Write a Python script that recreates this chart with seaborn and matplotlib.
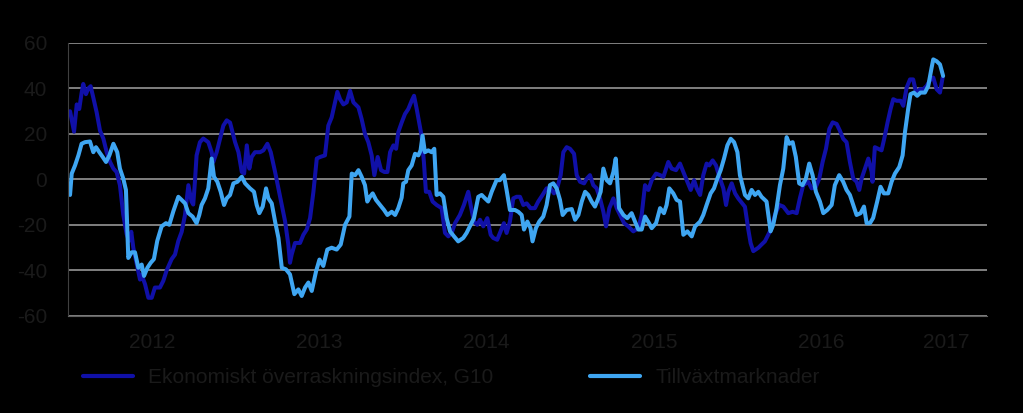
import matplotlib
matplotlib.use('Agg')
import matplotlib.pyplot as plt
import seaborn as sns
import pandas as pd

# Ekonomiskt överraskningsindex, G10 (decimal year, value)
g10_t = [2012.012, 2012.036, 2012.052, 2012.067, 2012.081, 2012.091, 2012.107, 2012.121, 2012.135, 2012.151,
         2012.171, 2012.191, 2012.211, 2012.231, 2012.251, 2012.271, 2012.290, 2012.310, 2012.330, 2012.350,
         2012.364, 2012.378, 2012.390, 2012.410, 2012.430, 2012.440, 2012.460, 2012.480, 2012.500, 2012.519,
         2012.549, 2012.569, 2012.589, 2012.619, 2012.639, 2012.659, 2012.679, 2012.699, 2012.719, 2012.738,
         2012.748, 2012.758, 2012.768, 2012.788, 2012.808, 2012.838, 2012.858, 2012.868, 2012.888, 2012.908,
         2012.928, 2012.948,
         2012.968, 2012.998, 2013.018, 2013.038, 2013.052, 2013.068, 2013.083, 2013.097, 2013.117, 2013.147,
         2013.167, 2013.191, 2013.211, 2013.237, 2013.257, 2013.277, 2013.297, 2013.316, 2013.326, 2013.336,
         2013.356, 2013.386, 2013.406, 2013.426, 2013.446, 2013.466, 2013.486, 2013.506, 2013.535, 2013.555,
         2013.575, 2013.595, 2013.609, 2013.625, 2013.645, 2013.665, 2013.685, 2013.705, 2013.735, 2013.754,
         2013.774, 2013.794, 2013.814, 2013.830, 2013.850, 2013.870, 2013.890, 2013.908, 2013.924, 2013.944,
         2013.960, 2013.973,
         2013.993, 2014.013, 2014.033, 2014.053, 2014.067, 2014.083, 2014.098, 2014.112, 2014.126, 2014.138,
         2014.158, 2014.178, 2014.202, 2014.232, 2014.252, 2014.272, 2014.292, 2014.312, 2014.341, 2014.365,
         2014.391, 2014.405, 2014.425, 2014.445, 2014.461, 2014.481, 2014.505, 2014.525, 2014.540, 2014.564,
         2014.584, 2014.604, 2014.620, 2014.640, 2014.660, 2014.680, 2014.700, 2014.720, 2014.740, 2014.763,
         2014.789, 2014.809, 2014.835, 2014.859, 2014.883, 2014.903, 2014.919, 2014.943, 2014.959, 2014.979,
         2014.999, 2015.023, 2015.039, 2015.059, 2015.083, 2015.099, 2015.118, 2015.138, 2015.158, 2015.178,
         2015.198, 2015.214, 2015.234, 2015.258, 2015.278, 2015.298, 2015.322, 2015.347, 2015.377, 2015.407,
         2015.427, 2015.447, 2015.467, 2015.487, 2015.513, 2015.537, 2015.557, 2015.586, 2015.606, 2015.632,
         2015.656, 2015.676, 2015.700, 2015.720, 2015.740, 2015.756, 2015.776, 2015.795, 2015.815, 2015.831,
         2015.851, 2015.871, 2015.891, 2015.915, 2015.931, 2015.945, 2015.965, 2015.985, 2016.004,
         2016.044, 2016.064, 2016.078, 2016.094, 2016.124, 2016.143, 2016.163, 2016.183, 2016.203, 2016.223,
         2016.249, 2016.273, 2016.303, 2016.329, 2016.353, 2016.372, 2016.392, 2016.422, 2016.442, 2016.468,
         2016.488, 2016.508, 2016.528, 2016.548, 2016.568, 2016.592, 2016.611, 2016.631, 2016.651, 2016.671,
         2016.691, 2016.711, 2016.727, 2016.741, 2016.761, 2016.781, 2016.801, 2016.806, 2016.820, 2016.840,
         2016.860, 2016.876, 2016.896, 2016.914, 2016.930, 2016.950, 2016.974, 2016.990, 2017.010, 2017.030,
         2017.049, 2017.069, 2017.089, 2017.109, 2017.129, 2017.153, 2017.169, 2017.189, 2017.209, 2017.225]
g10_v = [30, 21, 33, 31, 38, 42, 37.5, 40, 41, 36,
         29.5, 21.5, 18, 12, 7.7, 4.8, 3.3, -2.5, -15.5, -24,
         -27, -23, -30, -37, -44, -42, -46, -52, -52, -47.5,
         -47.5, -44.6, -40, -35, -33, -27, -23, -15.5, -2.5, -9.7,
         -11, -1, 10.6, 16.4, 18, 16.4, 12, 7.7, 12, 17.9,
         23.7, 26,
         25, 16.4, 12, 3.3, 2.6, 15, 4.8, 9.9, 12, 12,
         12.8, 15.7, 12, 3.3, -3.9, -11.2, -18.5, -28.6, -36.6, -33,
         -27.9, -27.9, -24.3, -22, -17, -5.4, 9.2, 9.9, 10.6, 23.7,
         27.3, 33.9, 38.5, 35.3, 33, 33.9, 39, 33.9, 31.7, 26.6,
         20, 16.4, 10.6, 1.9, 9.9, 4.1, 3.3, 3.3, 12, 15,
         13.5, 20.8,
         25, 28.8, 31, 34.6, 36.8, 31, 25, 19.3, 7.7, -5.4,
         -5.4, -9.7, -11.2, -12.6, -23.5, -25, -23.5, -19.2, -15.6, -11.2,
         -5.4, -11.2, -18.5, -19.9, -17.7, -20.6, -17, -24.3, -25.7, -26.5,
         -22.8, -19.2, -23.5, -18.5, -8.3, -7.6, -7.6, -11.2, -10.5, -12.6,
         -12.6, -9.7, -6.8, -3.9, -3.9, -6.1, -4.7, 1.9, 12, 14.2,
         13.5, 11.3, 1.9, -1, -1.7, 0.4, 1.9, -2.5, -3.9, -8.3,
         -14.1, -20.6, -12.6, -8.3, -12.6, -15.6, -19.2, -20.6, -22.8, -21.4,
         -15.6, -2.5, -4.6, -0.3, 2.6, 1.9, 1.2, 7.7, 4.8, 4.1,
         7, 3.3, -1, -4.6, -0.3, -3.9, -6.8, 1.9, 7, 6.2,
         8.4, 6.2, 1.2, -3.9, -11.2, -5.4, -1.7, -6.1, -8.3,
         -12, -22, -28, -31.5, -30, -28.6, -27.2, -24.3, -21.4, -15.6,
         -11.2, -11.9, -14.8, -14.2, -14.8, -8.3, -2.5, -1, -3.9, -3.2,
         0.4, 7.7, 13.5, 22.2, 25.1, 24.4, 21.5, 17.9, 16.4, 7.7,
         0.4, -1, -4.6, 0.4, 4.8, 9.2, 3.3, -1, 14.2, 13.5,
         12.8, 17.9, 25.1, 31, 35.3, 34.6, 34.6, 32.4, 40.4, 44,
         44, 37.5, 39.7, 39.7, 41.1, 44, 44.8, 39.7, 38.2, 44.8]

# Tillväxtmarknader (decimal year, value)
em_t = [2012.012, 2012.022, 2012.042, 2012.062, 2012.081, 2012.101, 2012.131, 2012.151, 2012.167, 2012.187,
        2012.207, 2012.227, 2012.247, 2012.271, 2012.294, 2012.310, 2012.330, 2012.346, 2012.360, 2012.380,
        2012.400, 2012.420, 2012.440, 2012.454, 2012.474, 2012.494, 2012.513, 2012.533, 2012.559, 2012.585,
        2012.605, 2012.629, 2012.659, 2012.679, 2012.699, 2012.719, 2012.744, 2012.768, 2012.784, 2012.798,
        2012.818, 2012.838, 2012.858, 2012.872, 2012.892, 2012.912, 2012.932, 2012.948,
        2012.968, 2012.988, 2013.012, 2013.038, 2013.058, 2013.087, 2013.111, 2013.127, 2013.143, 2013.163,
        2013.183, 2013.197, 2013.217, 2013.237, 2013.257, 2013.277, 2013.302, 2013.326, 2013.352, 2013.376,
        2013.396, 2013.416, 2013.436, 2013.456, 2013.482, 2013.502, 2013.525, 2013.549, 2013.575, 2013.605,
        2013.629, 2013.655, 2013.681, 2013.695, 2013.715, 2013.735, 2013.754, 2013.774, 2013.788, 2013.804,
        2013.820, 2013.840, 2013.864, 2013.888, 2013.908, 2013.934, 2013.954, 2013.973,
        2013.993, 2014.003, 2014.019, 2014.033, 2014.053, 2014.073, 2014.093, 2014.106, 2014.118, 2014.132,
        2014.152, 2014.172, 2014.188, 2014.202, 2014.222, 2014.242, 2014.262, 2014.282, 2014.306, 2014.331,
        2014.361, 2014.381, 2014.405, 2014.425, 2014.451, 2014.471, 2014.491, 2014.511, 2014.531, 2014.560,
        2014.580, 2014.604, 2014.620, 2014.640, 2014.670, 2014.690, 2014.710, 2014.724, 2014.744, 2014.763,
        2014.775, 2014.795, 2014.815, 2014.839, 2014.859, 2014.879, 2014.899, 2014.919, 2014.939, 2014.955,
        2014.979,
        2015.009, 2015.029, 2015.049, 2015.069, 2015.089, 2015.108, 2015.128, 2015.148, 2015.168, 2015.182,
        2015.198, 2015.218, 2015.238, 2015.258, 2015.272, 2015.292, 2015.318, 2015.341, 2015.367, 2015.387,
        2015.407, 2015.427, 2015.447, 2015.471, 2015.487, 2015.513, 2015.537, 2015.560, 2015.576, 2015.592,
        2015.616, 2015.636, 2015.656, 2015.676, 2015.700, 2015.726, 2015.746, 2015.776, 2015.795, 2015.815,
        2015.839, 2015.859, 2015.879, 2015.899, 2015.919, 2015.939, 2015.959, 2015.979, 2015.999, 2016.014,
        2016.044, 2016.064, 2016.084, 2016.104, 2016.124, 2016.143, 2016.173, 2016.197, 2016.213, 2016.233,
        2016.253, 2016.273, 2016.293, 2016.309, 2016.329, 2016.348, 2016.368, 2016.388, 2016.408, 2016.428,
        2016.448, 2016.468, 2016.492, 2016.512, 2016.536, 2016.562, 2016.581, 2016.607, 2016.631, 2016.651,
        2016.671, 2016.691, 2016.711, 2016.735, 2016.755, 2016.771, 2016.791, 2016.810, 2016.834, 2016.854,
        2016.874, 2016.900, 2016.920, 2016.940, 2016.966, 2016.986, 2017.000, 2017.019, 2017.033, 2017.053,
        2017.073, 2017.093, 2017.119, 2017.139, 2017.159, 2017.169, 2017.189, 2017.209, 2017.228]
em_v = [-6.8, 2.6, 6.2, 10.6, 15.7, 16.4, 16.7, 12, 14.2, 12,
        9.9, 7.7, 10.6, 15.7, 12, 4.8, 0.4, -4.6, -34.5, -32,
        -32, -38.8, -37.4, -42.4, -38.8, -36.6, -35, -27, -20.6, -19.2,
        -19.9, -14, -7.6, -9, -10.5, -14.8, -16.3, -19.2, -15.6, -11.2,
        -8.3, -3.9, 9.2, 1.2, -1, -5.4, -11.2, -8.3,
        -6.8, -1.7, -1, 1.2, -1.7, -3.9, -5.4, -11.2, -14.8, -11.9,
        -3.9, -8.3, -10.5, -18.5, -25.7, -38.8, -39.5, -41.7, -50.4, -48.3,
        -51.2, -47.5, -45.3, -49, -40.3, -35.2, -38, -30.8, -30, -30.8,
        -28.6, -19.9, -16.3, 2.6, 1.9, 4.1, 1.2, -2.5, -9.7, -7.6,
        -6.1, -9, -11.2, -13.4, -15.6, -14.2, -15.6, -12.6,
        -8, -1.7, -1, 4.1, 6.2, 11.3, 10.6, 12.8, 19.3, 12,
        12.8, 12, 13.5, -6.8, -6.1, -7.6, -17, -22.8, -25, -27.2,
        -25.7, -23.5, -19.9, -17, -7.6, -6.8, -8.3, -9.7, -5.4, -0.3,
        -0.3, 1.9, -4.6, -13.4, -13.4, -14.2, -15.6, -22, -18.5, -21.4,
        -27.2, -21.4, -18.5, -16.3, -11.2, -2.5, -1.7, -3.9, -9, -15.6,
        -13.4,
        -13, -17.7, -15.6, -9.7, -5.4, -6.8, -9.7, -11.9, -8.3, -5.4,
        4.8, -0.3, -1.7, 3.3, 9.2, -12.6, -15.6, -17, -14.8, -18.5,
        -22, -22, -16.3, -19.2, -21.4, -19.2, -12.6, -14.8, -11.2, -3.9,
        -6.1, -9, -9.7, -24.3, -22.8, -25, -20.6, -18.5, -15.6, -11.2,
        -6.1, -3.9, 0.4, 4.1, 9.2, 15, 17.9, 16.4, 12, 1.9,
        -6.8, -8.3, -4.6, -6.8, -5.4, -7.6, -9.7, -22.8, -19.9, -12.6,
        -2.5, 4.8, 18.6, 15.7, 16.4, 9.9, -1.7, -2.5, 0.4, 7,
        1.9, -5.4, -9.7, -14.8, -13.4, -11.2, -2.5, 1.9, -1, -4.6,
        -6.8, -11.2, -15.6, -14.8, -11.9, -19.2, -19.2, -16.9, -9.7, -3.2,
        -6.1, -6.1, -1, 2.6, 5.5, 10.6, 20.8, 31, 37.5, 38.2,
        36.8, 38.2, 38.2, 41.1, 49.1, 52.8, 52, 50.6, 45.5]

series_names = ['Ekonomiskt överraskningsindex, G10', 'Tillväxtmarknader']
colors = ['#1010a8', '#3fa6f2']
years = [2012, 2013, 2014, 2015, 2016, 2017]
yticks = [-60, -40, -20, 0, 20, 40, 60]

df = pd.concat([
    pd.DataFrame({'t': g10_t, 'v': g10_v, 'serie': series_names[0]}),
    pd.DataFrame({'t': em_t, 'v': em_v, 'serie': series_names[1]}),
])

sns.set_style('white')
plt.rcParams['font.family'] = ['Liberation Sans', 'DejaVu Sans']
plt.rcParams['axes.unicode_minus'] = False

txt = '#1a1a1a'
fig = plt.figure(figsize=(10.23, 4.13), dpi=100, facecolor='black')
ax = fig.add_axes([0.0665, 0.2349, 0.8983, 0.661])
ax.set_facecolor('black')

sns.lineplot(data=df, x='t', y='v', hue='serie', palette=colors, estimator=None, sort=False,
             linewidth=2.9, ax=ax, legend=False)

ax.set_xlim(2012.0, 2017.49)
ax.set_ylim(-60, 60)
ax.set_yticks(yticks)
ax.yaxis.grid(True, color='#808080', linewidth=1.4)
ax.set_axisbelow(True)

ax.set_xticks(years)
ax.set_xticklabels([])
ax.set_xticks([y + 0.5 if y < 2017 else 2017.245 for y in years], minor=True)
ax.set_xticklabels([str(y) for y in years], minor=True)
ax.tick_params(axis='x', which='major', length=7, width=1, color='#404040', direction='out')
ax.tick_params(axis='x', which='minor', length=0, pad=12, labelsize=15, labelcolor=txt)
ax.tick_params(axis='y', length=8, width=1.2, color='#808080', pad=7, labelsize=15, labelcolor=txt)

for s in ['top', 'right']:
    ax.spines[s].set_visible(False)
ax.spines['left'].set_color('#404040')
ax.spines['bottom'].set_color('#606060')
ax.set_xlabel('')
ax.set_ylabel('')

handles = [plt.Line2D([], [], color=c, linewidth=3) for c in colors]
fig.legend(handles, series_names, loc='center left', bbox_to_anchor=(0.081, 0.085), ncol=2,
           frameon=False, fontsize=15, labelcolor=txt, handlelength=2.4, handletextpad=0.75,
           columnspacing=4.6, borderpad=0, borderaxespad=0)

fig.savefig('out.png', dpi=100, facecolor='black')
